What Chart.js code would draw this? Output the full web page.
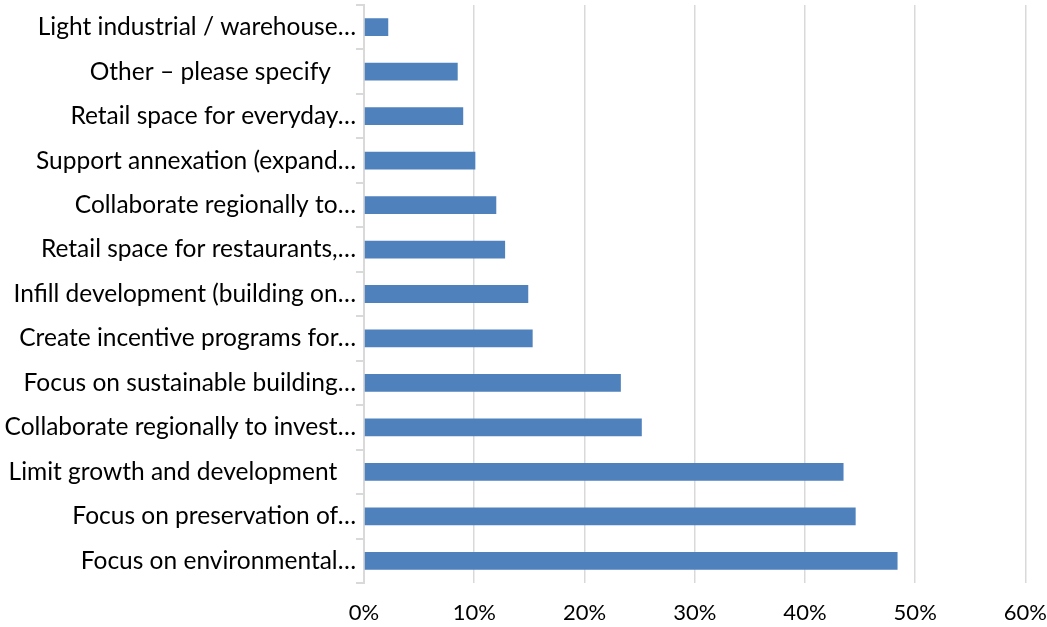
<!DOCTYPE html>
<html>
<head>
<meta charset="utf-8">
<script src="https://cdn.jsdelivr.net/npm/chart.js@4"></script>
<style>
  html, body { margin: 0; padding: 0; background: #ffffff; }
  #wrap { width: 1047px; height: 627px; }
</style>
</head>
<body>
<div id="wrap"><canvas id="grafico"></canvas></div>
<script>
// categorias de cima para baixo
var categorias = [
  "Light industrial / warehouse\u2026",
  "Other \u2013 please specify    ",
  "Retail space for everyday\u2026",
  "Support annexation (expand\u2026",
  "Collaborate regionally to\u2026",
  "Retail space for restaurants,\u2026",
  "Infill development (building on\u2026",
  "Create incentive programs for\u2026",
  "Focus on sustainable building\u2026",
  "Collaborate regionally to invest\u2026",
  "Limit growth and development   ",
  "Focus on preservation of\u2026",
  "Focus on environmental\u2026"
];

// percentuais
var valores = [2.2, 8.5, 9.0, 10.1, 12.0, 12.8, 14.9, 15.3, 23.3, 25.2, 43.5, 44.6, 48.4];

var ticks_x = [0, 10, 20, 30, 40, 50, 60];

var fonte = "Lato, 'Open Sans', sans-serif";

var ctx = document.getElementById("grafico");
var chartGraph = new Chart(ctx, {
  type: 'bar',
  data: {
    labels: categorias,
    datasets: [{
      data: valores,
      backgroundColor: "#4f81bd",
      borderWidth: 0,
      categoryPercentage: 1.0,
      barPercentage: 0.4
    }]
  },
  options: {
    indexAxis: 'y',
    responsive: true,
    maintainAspectRatio: false,
    animation: false,
    layout: { padding: { top: 5, right: 0, bottom: 0, left: 0 } },
    plugins: {
      legend: { display: false },
      tooltip: { enabled: false }
    },
    scales: {
      x: {
        min: 0,
        max: 60,
        afterBuildTicks: function (s) {
          s.ticks = ticks_x.map(function (v) { return { value: v }; });
        },
        afterFit: function (s) { s.height = 44; },
        border: { display: false },
        // tick invisivel so para afastar os rotulos do grafico
        grid: { color: "#d9d9d9", lineWidth: 1.5, drawTicks: true, tickLength: 17, tickColor: "rgba(0,0,0,0)" },
        ticks: {
          padding: 0,
          color: "#000000",
          font: { family: fonte, size: 22 },
          callback: function (v) { return v + "%"; }
        }
      },
      y: {
        afterFit: function (s) { s.width = 364; },
        border: { display: true, color: "#d9d9d9", width: 2 },
        grid: { offset: true, drawOnChartArea: false, color: "#d9d9d9", lineWidth: 2, tickLength: 8 },
        ticks: {
          padding: 0,
          color: "#000000",
          font: { family: fonte, size: 24.5, lineHeight: 0.4 },
          autoSkip: false
        }
      }
    }
  }
});
</script>
</body>
</html>
